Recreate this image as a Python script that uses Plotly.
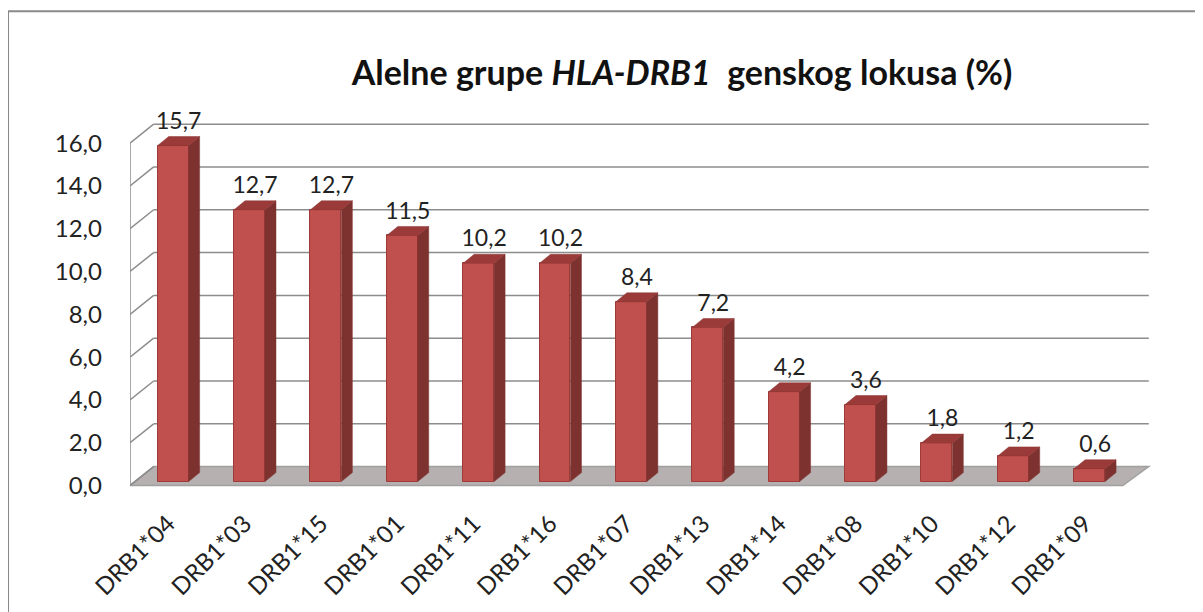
import plotly.graph_objects as go

categories = ['DRB1*04', 'DRB1*03', 'DRB1*15', 'DRB1*01', 'DRB1*11', 'DRB1*16', 'DRB1*07',
              'DRB1*13', 'DRB1*14', 'DRB1*08', 'DRB1*10', 'DRB1*12', 'DRB1*09']
values = [15.7, 12.7, 12.7, 11.5, 10.2, 10.2, 8.4, 7.2, 4.2, 3.6, 1.8, 1.2, 0.6]
y_ticks = [0, 2, 4, 6, 8, 10, 12, 14, 16]
title = 'Alelne grupe <i>HLA-DRB1</i>  genskog lokusa (%)'

FONT = 'Lato'

# pseudo 3d geometry (axis units)
DX, DY = 0.31, 0.886         # depth of the floor / walls
f = 0.21                      # depth of bar front face
bw = 0.405                    # bar width
sdx, sdy = 0.144, 0.42        # bar side depth
x0, x1 = -0.5, len(categories) - 0.5

base = f * DY
xs = [i + f * DX for i in range(len(categories))]

fig = go.Figure()

# floor
fig.add_shape(type='path', xref='x', yref='y', layer='below',
              path=f'M {x0},0 L {x1},0 L {x1 + DX + 0.03},{DY} L {x0 + DX},{DY} Z',
              fillcolor='#b7b0b0', line=dict(color='#a0a0a0', width=1.5))

# gridlines on back wall + left wall
for t in y_ticks:
    yb = t + DY
    if t > 0:
        fig.add_shape(type='line', xref='x', yref='y', layer='below',
                      x0=x0 + DX, x1=x1 + DX + 0.03, y0=yb, y1=yb,
                      line=dict(color='#8c8c8c', width=1.5))
    fig.add_shape(type='line', xref='x', yref='y', layer='below',
                  x0=x0, x1=x0 + DX, y0=t, y1=yb,
                  line=dict(color='#8c8c8c', width=1.5))
fig.add_shape(type='line', xref='x', yref='y', layer='below',
              x0=x0, x1=x0, y0=0, y1=y_ticks[-1],
              line=dict(color='#8c8c8c', width=1.5))

# front faces
fig.add_trace(go.Bar(x=xs, y=values, base=[base] * len(values), width=bw,
                     marker=dict(color='#c0504d', line=dict(color='#9c3b38', width=1)),
                     hoverinfo='skip', showlegend=False))

# side and top faces
side_x, side_y, top_x, top_y = [], [], [], []
for x, v in zip(xs, values):
    xl, xr = x - bw / 2, x + bw / 2
    t = base + v
    side_x += [xr, xr + sdx, xr + sdx, xr, xr, None]
    side_y += [base, base + sdy, t + sdy, t, base, None]
    top_x += [xl, xr, xr + sdx, xl + sdx, xl, None]
    top_y += [t, t, t + sdy, t + sdy, t, None]

fig.add_trace(go.Scatter(x=side_x, y=side_y, mode='lines', fill='toself',
                         fillcolor='#7e3230', line=dict(color='#7e3230', width=0.5),
                         hoverinfo='skip', showlegend=False))
fig.add_trace(go.Scatter(x=top_x, y=top_y, mode='lines', fill='toself',
                         fillcolor='#9b3b39', line=dict(color='#8a3533', width=0.5),
                         hoverinfo='skip', showlegend=False))

# value labels
fig.add_trace(go.Scatter(x=[x + sdx / 2 for x in xs], y=[base + v + sdy + 0.1 for v in values],
                         mode='text', text=[f'{v:.1f}'.replace('.', ',') for v in values],
                         textposition='top center',
                         textfont=dict(family=FONT, size=23, color='#222'),
                         hoverinfo='skip', showlegend=False))

# frame around chart
fig.add_shape(type='rect', xref='paper', yref='paper', x0=-0.1183, x1=1.0369, y0=-0.4, y1=1.2615,
              line=dict(color='#8a8a8a', width=2), fillcolor='rgba(0,0,0,0)')

# page body has an 8px margin, so the figure is 8px smaller
fig.update_layout(
    width=1195, height=604,
    margin=dict(l=122, r=42, t=103, b=120, autoexpand=False),
    paper_bgcolor='white', plot_bgcolor='white',
    separators=',.',
    title=dict(text=title, x=0.564, xanchor='center', y=0.892, yanchor='middle',
               font=dict(family=FONT, size=34, color='#111', weight='bold')),
    bargap=0,
    xaxis=dict(range=[x0, x1 + 0.5], tickvals=list(range(len(categories))), ticktext=categories,
               tickangle=-45, showgrid=False, zeroline=False, showline=False, ticks='',
               automargin=False, ticklabelstandoff=12,
               tickfont=dict(family=FONT, size=24, color='#222')),
    yaxis=dict(range=[-0.3, 17.5], tickvals=y_ticks, tickformat='.1f', showgrid=False,
               zeroline=False, showline=False, ticks='', ticklabelstandoff=27,
               automargin=False,
               tickfont=dict(family=FONT, size=24, color='#222')),
)

fig.write_html('out.html')
